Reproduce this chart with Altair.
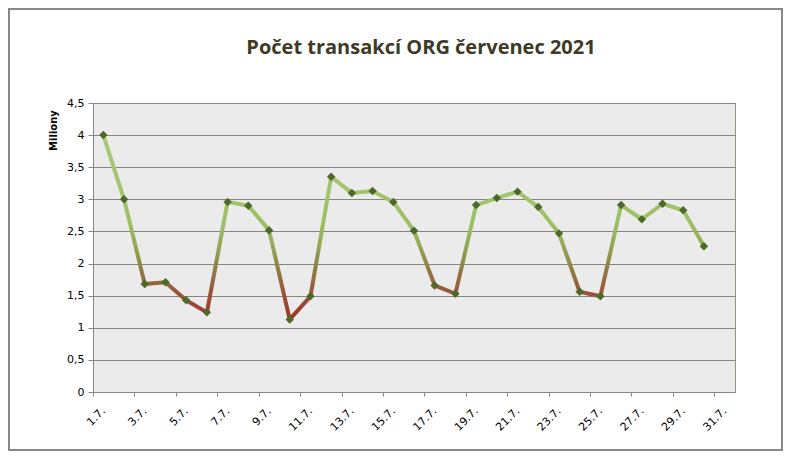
import altair as alt
import pandas as pd

# ---- data ----
dates = ["1.7.", "2.7.", "3.7.", "4.7.", "5.7.", "6.7.", "7.7.", "8.7.", "9.7.", "10.7.",
         "11.7.", "12.7.", "13.7.", "14.7.", "15.7.", "16.7.", "17.7.", "18.7.", "19.7.", "20.7.",
         "21.7.", "22.7.", "23.7.", "24.7.", "25.7.", "26.7.", "27.7.", "28.7.", "29.7.", "30.7.",
         "31.7."]
values = [4.00, 3.00, 1.68, 1.71, 1.43, 1.24, 2.96, 2.90, 2.52, 1.13,
          1.49, 3.35, 3.10, 3.13, 2.96, 2.51, 1.66, 1.53, 2.91, 3.02,
          3.12, 2.88, 2.47, 1.56, 1.49, 2.91, 2.69, 2.93, 2.83, 2.27,
          None]
y_ticks = [0, 0.5, 1, 1.5, 2, 2.5, 3, 3.5, 4, 4.5]
title_text = "Počet transakcí ORG červenec 2021"
y_title = "Miliony"

days = list(range(1, len(dates) + 1))
df = pd.DataFrame({"day": days, "date": dates, "value": values}).dropna()

label_days = days[::2]
tick_positions = [d - 0.5 for d in label_days]
label_expr = "[" + ",".join("'%s'" % d for d in dates) + "][datum.value - 1]"

W, H = 642, 289
PAD_L, PAD_T = 85, 95
SVG_W, SVG_H = 775, 443

x_scale = alt.Scale(domain=[0.5, len(dates) + 0.5], nice=False, zero=False)

y_enc = alt.Y(
    "value:Q",
    scale=alt.Scale(domain=[0, 4.5], nice=False),
    axis=alt.Axis(
        values=y_ticks, format="~g", labelExpr="replace(datum.label, '.', ',')",
        grid=True, gridColor="#858585", gridWidth=1,
        domainColor="#868686", tickColor="#868686", tickSize=5,
        labelFont="DejaVu Sans", labelFontSize=11, labelColor="#000000", labelPadding=4,
        title=y_title, titleFont="DejaVu Sans", titleFontSize=10, titleFontWeight="bold",
        titleColor="#000000", titleAngle=-90, titleX=-40, titleY=27,
        titleAlign="center", titleBaseline="middle",
    ),
)

line = alt.Chart(df).mark_line(
    strokeWidth=4, strokeJoin="round",
    color=alt.Gradient(
        gradient="linear",
        stops=[
            alt.GradientStop(color="#aacb7c", offset=0),
            alt.GradientStop(color="#9dc064", offset=0.48),
            alt.GradientStop(color="#94a955", offset=0.6),
            alt.GradientStop(color="#8e8044", offset=0.72),
            alt.GradientStop(color="#99553a", offset=0.85),
            alt.GradientStop(color="#a3342a", offset=1),
        ],
        x1=0, x2=0, y1=0, y2=1,
    ),
).encode(
    x=alt.X("day:Q", scale=x_scale, axis=alt.Axis(
        orient="bottom", values=label_days, labelExpr=label_expr,
        tickSize=0, grid=False, domainColor="#868686",
        labelAngle=-45, labelAlign="right", labelBaseline="middle",
        labelFont="DejaVu Sans", labelFontSize=11, labelColor="#000000",
        labelPadding=17, title=None, labelOverlap=False,
    )),
    y=y_enc,
)

points = alt.Chart(df).mark_point(
    shape="diamond", filled=True, size=72, color="#4b6a27", opacity=1
).encode(
    x=alt.X("day:Q", scale=x_scale, axis=alt.Axis(
        orient="bottom", values=tick_positions, labels=False, ticks=True,
        tickSize=4, tickColor="#868686", domain=False, grid=False, title=None,
    )),
    y=y_enc,
)

one = pd.DataFrame({"k": [0]})

border = alt.Chart(one).mark_rect(fill=None, stroke="#878787", strokeWidth=2).encode(
    x=alt.value(-PAD_L + 1), x2=alt.value(SVG_W - PAD_L - 1),
    y=alt.value(-PAD_T + 1), y2=alt.value(SVG_H - PAD_T - 1),
)

title = alt.Chart(one).mark_text(
    text=title_text, font="Open Sans", fontSize=20, fontWeight="bold",
    color="#3d3a26", align="center", baseline="middle",
).encode(x=alt.value(328), y=alt.value(-55))

chart = alt.layer(border, title, line, points).resolve_axis(x="independent").properties(
    width=W, height=H, autosize="none",
    padding={"left": PAD_L, "top": PAD_T, "right": SVG_W - PAD_L - W, "bottom": SVG_H - PAD_T - H},
    background="#ffffff",
).configure_view(fill="#ebebeb", stroke="#8f9a78", strokeWidth=1)

chart.save("out.html", embed_options={"renderer": "svg", "actions": False})
